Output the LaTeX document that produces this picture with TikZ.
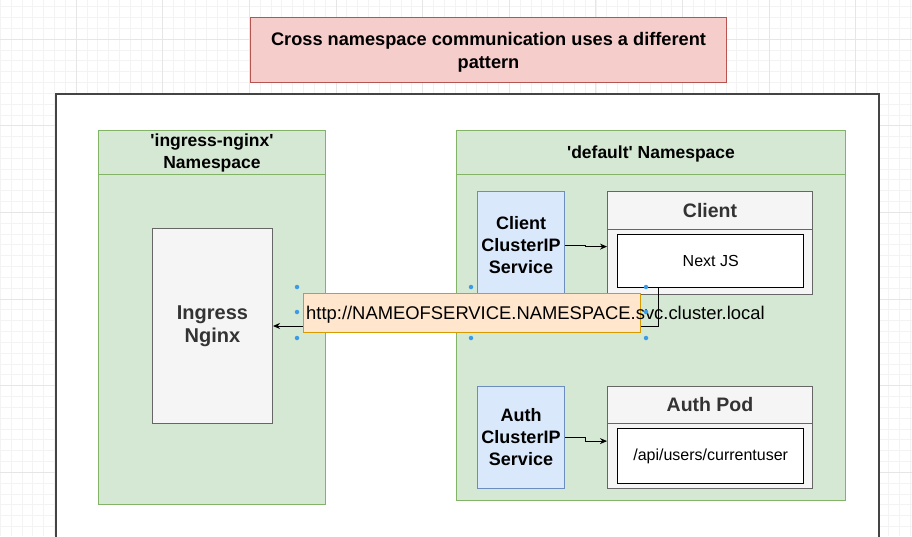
\documentclass[tikz,border=0pt]{standalone}
\usepackage{fontspec}
\setmainfont{Liberation Sans}
\usetikzlibrary{arrows.meta}
\definecolor{titlefill}{HTML}{F5CDCB}
\definecolor{titleline}{HTML}{B85450}
\definecolor{nsfill}{HTML}{D5E8D4}
\definecolor{nsline}{HTML}{82B366}
\definecolor{svcfill}{HTML}{DAE8FC}
\definecolor{svcline}{HTML}{6C8EBF}
\definecolor{podfill}{HTML}{F5F5F5}
\definecolor{podline}{HTML}{666666}
\definecolor{podtext}{HTML}{333333}
\definecolor{urlfill}{HTML}{FFE6CC}
\definecolor{urlline}{HTML}{D79B00}
\definecolor{handleblue}{HTML}{3C9BE6}
\definecolor{framegray}{HTML}{444444}
\definecolor{gridlight}{HTML}{F3F3F3}
\definecolor{griddark}{HTML}{E6E6E6}
\begin{document}
\begin{tikzpicture}[x=1pt,y=-1pt,
  plainbox/.style={draw,anchor=north west,inner sep=0pt,line width=1pt},
  nsbox/.style={plainbox,fill=nsfill,draw=nsline},
  nshead/.style={nsbox,anchor=north,align=center,font=\bfseries\fontsize{17.5}{22}\selectfont},
  svcbox/.style={plainbox,fill=svcfill,draw=svcline,align=center,font=\bfseries\fontsize{18}{22}\selectfont},
  podbox/.style={plainbox,fill=podfill,draw=podline},
  podhead/.style={podbox,anchor=north,text=podtext,font=\bfseries\fontsize{19.5}{22}\selectfont},
  appbox/.style={plainbox,fill=white,draw=black,line width=1.4pt,font=\fontsize{16}{20}\selectfont},
  conn/.style={draw=black,line width=1pt,-{Stealth[length=7pt,width=6pt]}},
  handle/.style={circle,fill=handleblue,inner sep=0pt,minimum size=4.5pt},
  gridminor/.style={draw=gridlight,line width=0.6pt},
  gridmajor/.style={draw=griddark,line width=0.8pt}]
\useasboundingbox (0,0) rectangle (912,536);
\clip (0,0) rectangle (912,536);
\fill[white] (0,0) rectangle (912,536);
\foreach \i in {0,...,84} \draw[gridminor] (0.2+10.83*\i,0) -- (0.2+10.83*\i,536);
\foreach \i in {0,...,49} \draw[gridminor] (0,6.5+10.83*\i) -- (912,6.5+10.83*\i);
\foreach \i in {0,...,10} \draw[gridmajor] (-10.64+86.64*\i,0) -- (-10.64+86.64*\i,536);
\foreach \i in {0,...,5} \draw[gridmajor] (0,39+86.64*\i) -- (912,39+86.64*\i);

\node[plainbox, fill=titlefill, draw=titleline, minimum width=476pt, minimum height=65pt, align=center, font=\bfseries\fontsize{18.2}{23}\selectfont] (title) at (250,17) {\rule{0pt}{17pt}Cross namespace communication uses a different\\pattern};
\node[plainbox, draw=framegray, fill=white, line width=1.5pt, minimum width=823pt, minimum height=480pt] (frame) at (55,93) {};

\node[nsbox, minimum width=227pt, minimum height=374pt] (ingns) at (98,130) {};
\node[nshead, minimum width=227pt, minimum height=44pt] (ingnshead) at (ingns.north) {\textquotesingle ingress-nginx\textquotesingle\\Namespace};
\node[plainbox, fill=podfill, draw=podline, minimum width=120pt, minimum height=195pt, align=center, text=podtext, font=\bfseries\fontsize{20}{23}\selectfont] (ingress) at (152,228) {Ingress\\Nginx};

\node[nsbox, minimum width=389pt, minimum height=370pt] (defns) at (456,130) {};
\node[nshead, minimum width=389pt, minimum height=44pt] (defnshead) at (defns.north) {\rule{0pt}{16pt}\textquotesingle default\textquotesingle{} Namespace};

\node[svcbox, minimum width=87pt, minimum height=108pt] (csvc) at (477,191) {Client\\ClusterIP\\Service};
\node[podbox, minimum width=205pt, minimum height=103pt] (cpod) at (607,191) {};
\node[podhead, minimum width=205pt, minimum height=38pt] (cpodhead) at (cpod.north) {Client};
\node[appbox, minimum width=186pt, minimum height=53pt] (nextjs) at (617,234) {Next JS};

\node[svcbox, minimum width=87pt, minimum height=102pt] (asvc) at (477,386) {Auth\\ClusterIP\\Service};
\node[podbox, minimum width=205pt, minimum height=102pt] (apod) at (607,386) {};
\node[podhead, minimum width=205pt, minimum height=37pt] (apodhead) at (apod.north) {Auth Pod};
\node[appbox, minimum width=186pt, minimum height=55pt] (apiuser) at (617,428) {/api/users/currentuser};

\draw[conn] (csvc.east) -- ++(20,0) |- (cpod.182);
\draw[conn] (asvc.east) -- ++(20,0) |- (apod.182);

\coordinate (bend) at (658,326);
\draw[conn] (nextjs.south -| bend) |- (ingress.east);

\node[plainbox, fill=urlfill, draw=urlline, minimum width=337pt, minimum height=39pt] (url) at (303,293) {};
\node[anchor=west, inner sep=0pt, font=\fontsize{18.4}{22}\selectfont] (urltext) at ([xshift=3pt,yshift=-1.5pt]url.west) {http://NAMEOFSERVICE.NAMESPACE.svc.cluster.local};

\foreach \hx/\hy [count=\k] in {297/287, 297/312, 297/338, 471/287, 471/338, 646/287, 646/312, 646/338}
  \node[handle] (h\k) at (\hx,\hy) {};
\end{tikzpicture}
\end{document}
